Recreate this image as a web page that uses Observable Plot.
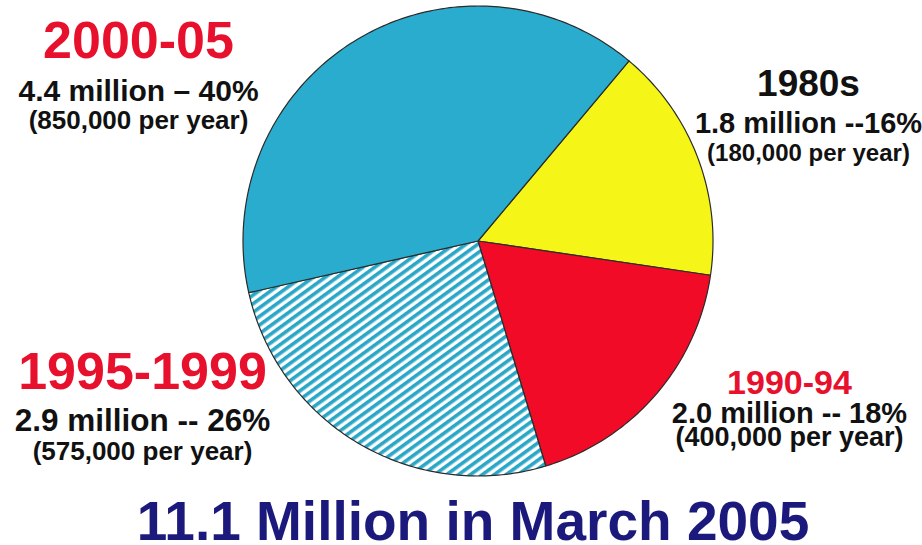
<!DOCTYPE html>
<html>
<head>
<meta charset="utf-8">
<script src="https://cdn.jsdelivr.net/npm/d3@7"></script>
<script src="https://cdn.jsdelivr.net/npm/@observablehq/plot@0.6"></script>
<style>
  html, body { margin: 0; padding: 0; background: #ffffff; }
  #chart { width: 922px; height: 497px; }
  #title {
    width: 922px; box-sizing: border-box; padding-left: 24px;
    height: 48px; line-height: 48px; text-align: center;
    font-family: "Liberation Sans", Arial, sans-serif; font-weight: bold;
    font-size: 55px; color: #1b1a7c; white-space: nowrap; overflow: visible;
  }
  svg text { font-family: "Liberation Sans", Arial, sans-serif; font-weight: bold; }
</style>
</head>
<body>
<div id="chart"></div>
<div id="title"></div>
<script>
// ---- data ----
const periods = ["1980s", "1990-94", "1995-1999", "2000-05"];
const millions = [1.8, 2.0, 2.9, 4.4];
const shareLabels = ["1.8 million --16%", "2.0 million -- 18%", "2.9 million -- 26%", "4.4 million \u2013 40%"];
const perYearLabels = ["(180,000 per year)", "(400,000 per year)", "(575,000 per year)", "(850,000 per year)"];
const titleText = "11.1 Million in March 2005";

// ---- styles / layout ----
const sliceColors = ["#f5f518", "#f20b26", "url(#hatch)", "#2aaccf"];
const periodTextColors = ["#111111", "#e8112d", "#e8112d", "#e8112d"];
const periodFontSize = [37, 34, 52, 52];
const shareFontSize = [29, 29, 31.5, 30];
const perYearFontSize = [24, 27, 26, 26];
// label anchors in pixels: [centerX, baseline period, baseline share, baseline per-year]
const labelLayout = [
  [808, 95, 132, 160],
  [789, 393, 422, 445],
  [142, 388, 430, 459],
  [138, 57, 100, 128]
];
const W = 922, H = 497;
const cx = 477.5, cy = 240.5, R = 235;
const startDeg = 40;

// ---- slices via d3.pie ----
const pie = d3.pie().sort(null).startAngle(startDeg * Math.PI / 180).endAngle(startDeg * Math.PI / 180 + 2 * Math.PI);
const arcs = pie(millions);
const slices = arcs.map((a, i) => {
  const ring = [[0, 0]];
  const n = Math.max(8, Math.ceil((a.endAngle - a.startAngle) / (Math.PI / 180)));
  for (let k = 0; k <= n; k++) {
    const t = a.startAngle + (a.endAngle - a.startAngle) * k / n;
    ring.push([Math.sin(t), Math.cos(t)]);
  }
  ring.push([0, 0]);
  return {type: "Feature", properties: {period: periods[i]}, geometry: {type: "Polygon", coordinates: [ring]}};
});

// label rows converted to data units of the projection
const toX = px => (px - cx) / R;
const toY = py => (cy - py) / R;
const periodRows = periods.map((p, i) => ({text: p, x: toX(labelLayout[i][0]), y: toY(labelLayout[i][1]), color: periodTextColors[i], size: periodFontSize[i]}));
const shareRows = shareLabels.map((s, i) => ({text: s, x: toX(labelLayout[i][0]), y: toY(labelLayout[i][2]), size: shareFontSize[i]}));
const perYearRows = perYearLabels.map((s, i) => ({text: s, x: toX(labelLayout[i][0]), y: toY(labelLayout[i][3]), size: perYearFontSize[i]}));

function textMarks(rows, colorFn) {
  return rows.map(r => Plot.text([r], {
    x: "x", y: "y", text: "text",
    fill: colorFn ? colorFn(r) : "#111111",
    fontSize: r.size, fontWeight: "bold",
    fontFamily: "Liberation Sans, Arial, sans-serif",
    textAnchor: "middle", lineAnchor: "bottom"
  }));
}

const svg = Plot.plot({
  width: W, height: H,
  marginLeft: cx - R, marginRight: W - (cx + R),
  marginTop: cy - R, marginBottom: H - (cy + R),
  projection: {type: "reflect-y", clip: false, domain: {type: "MultiPoint", coordinates: [[-1, -1], [1, 1]]}},
  color: {type: "ordinal", domain: periods, range: sliceColors},
  style: {background: "#ffffff", overflow: "visible"},
  marks: [
    Plot.geo(slices, {fill: d => d.properties.period, stroke: "#2b2b2b", strokeWidth: 1.2, strokeLinejoin: "round"}),
    ...textMarks(periodRows, r => r.color),
    ...textMarks(shareRows),
    ...textMarks(perYearRows)
  ]
});

// hatch pattern definition
const ns = "http://www.w3.org/2000/svg";
const defs = document.createElementNS(ns, "defs");
defs.innerHTML = '<pattern id="hatch" patternUnits="userSpaceOnUse" width="7" height="7" patternTransform="rotate(-36)">' +
  '<rect width="7" height="7" fill="#ffffff"/><rect width="7" height="3.6" fill="#2aa7c7"/></pattern>';
svg.insertBefore(defs, svg.firstChild);

document.getElementById("chart").appendChild(svg);
document.getElementById("title").textContent = titleText;
</script>
</body>
</html>
